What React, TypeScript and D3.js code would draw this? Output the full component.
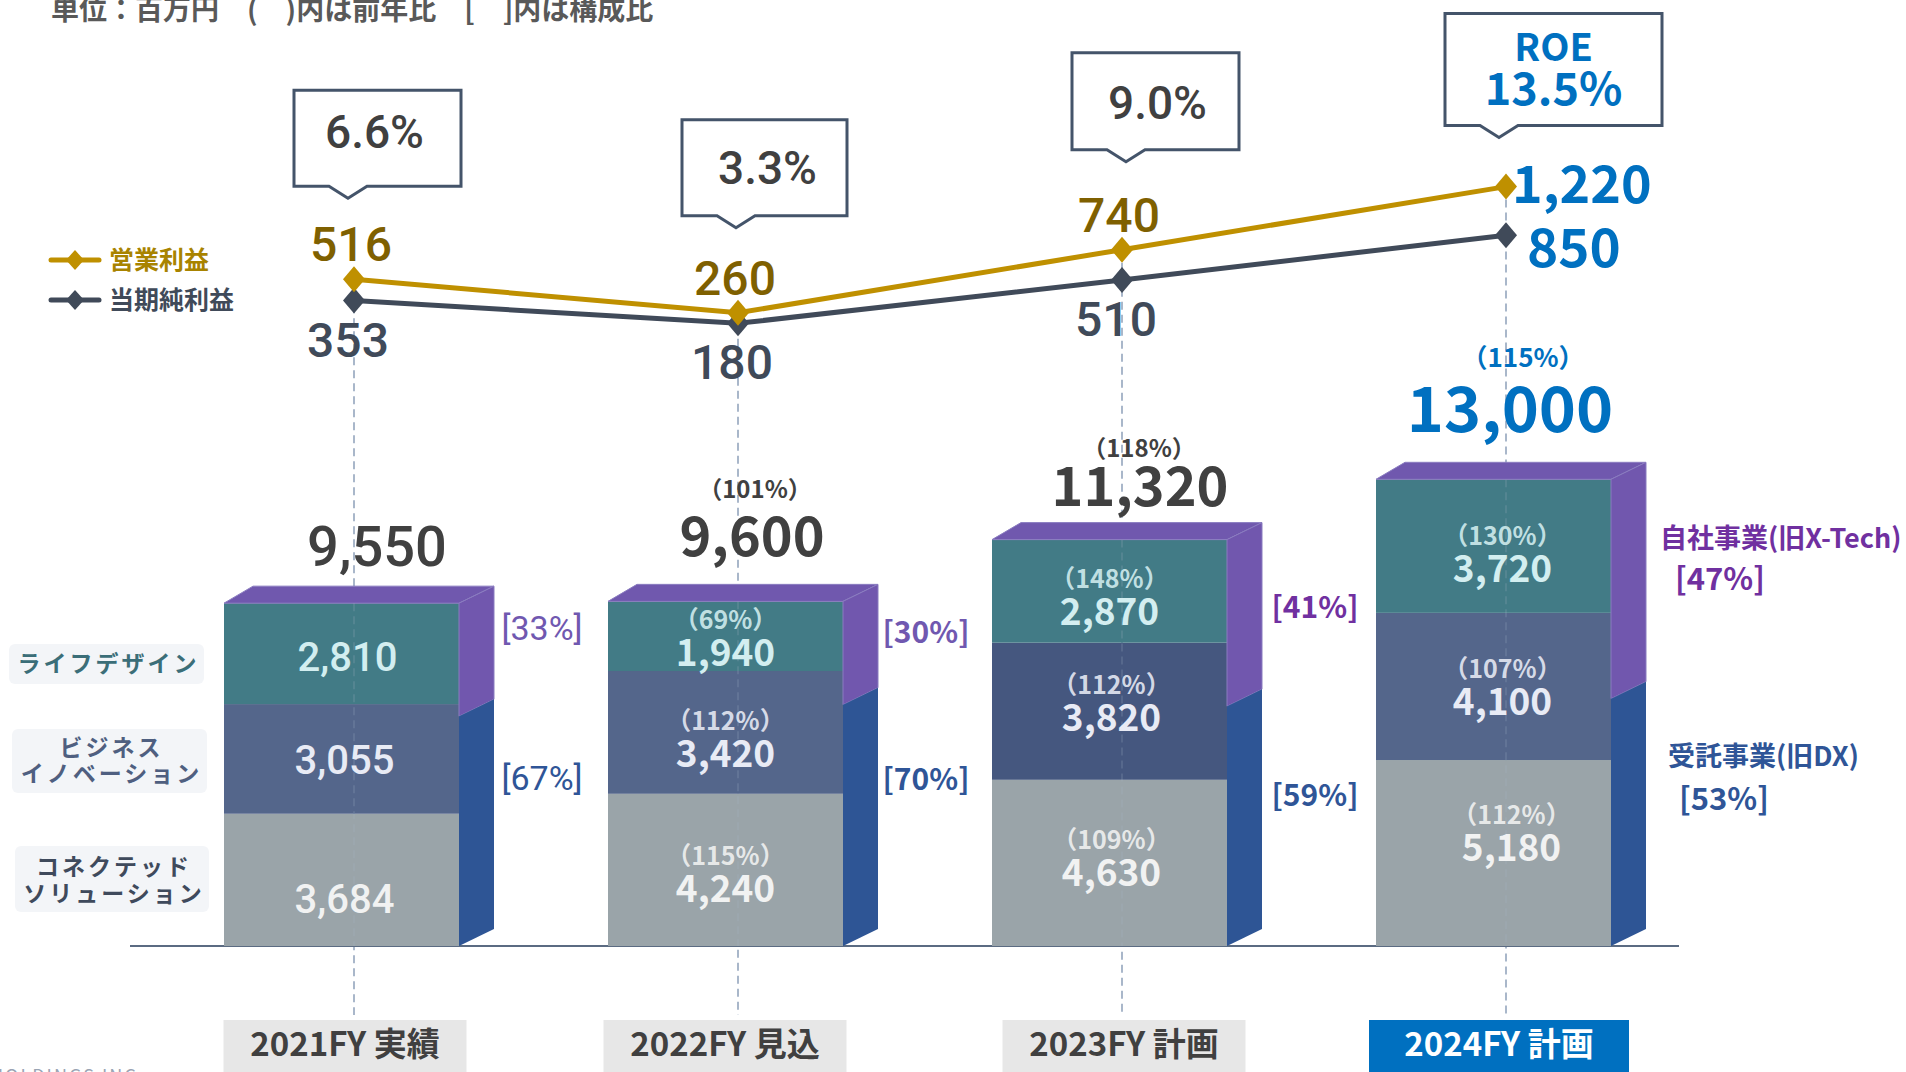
import React from "react";
import * as d3 from "d3";

// ---------- data ----------
const categories = ["2021FY 実績", "2022FY 見込", "2023FY 計画", "2024FY 計画"];
const segmentKeys = ["cs", "bi", "ld"]; // bottom -> top
const segmentNames = ["コネクテッド\nソリューション", "ビジネス\nイノベーション", "ライフデザイン"];
const connectedSolution = [3684, 4240, 4630, 5180];
const businessInnovation = [3055, 3420, 3820, 4100];
const lifeDesign = [2810, 1940, 2870, 3720];
const csYoY = ["", "115%", "109%", "112%"];
const biYoY = ["", "112%", "112%", "107%"];
const ldYoY = ["", "69%", "148%", "130%"];
const totals = [9550, 9600, 11320, 13000];
const totalYoY = ["", "101%", "118%", "115%"];
const ownBizShare = [33, 30, 41, 47];
const contractShare = [67, 70, 59, 53];
const operatingProfit = [516, 260, 740, 1220];
const netIncome = [353, 180, 510, 850];
const ratioLabels = ["6.6%", "3.3%", "9.0%", "13.5%"];
const seriesNames = ["営業利益", "当期純利益"];
const groupNames = ["自社事業(旧X-Tech)", "受託事業(旧DX)"];
const unitNote = "単位：百万円　(　)内は前年比　[　]内は構成比";

// ---------- layout / style ----------
const W = 1906;
const H = 1072;
const FONT = "'Noto Sans CJK JP', 'Noto Sans', sans-serif";
const NUM = "Roboto, 'Noto Sans', sans-serif";
const segColors = ["#9aa4a9", "#54668b", "#427b86"];
const segTextColors = ["#f1f2f2", "#e8ebf5", "#d3eef0"];
const BAR_OFF = -130;
const BAR_W = 235;
const TOP_DX = 29;
const SIDE_DX = 35;
const DEPTH_DY = -17;
const BASE_Y = 946;
const segLabelDy = [
  [33, 15, 17],
  [32, 35, 30],
  [23, 20, 34],
  [8, 29, 36],
];
const segLabelDx = [
  [3, 3, 6],
  [0, 0, 0],
  [2, 2, 0],
  [18, 9, 9],
];
const totalDy = [-37, -45, -34, -47];
const totalDx = [23, 14, 18, 4];
const shareLabelY = [
  [640, 790],
  [643, 790],
  [618, 806],
];
const shareLabelDx = [83, 83, 88];
const calloutLayout = [
  { left: -60, w: 167, h: 96, gap: 93, ty: 58, tx: 0 },
  { left: -56, w: 165, h: 96, gap: 97, ty: 64, tx: 6 },
  { left: -50, w: 167, h: 97, gap: 100, ty: 66, tx: 5 },
  { left: -61, w: 217, h: 112, gap: 61, ty: 0, tx: 0 },
];
const catBoxDx = [-9, -13, 2, -7];
const catBoxW = [243, 243, 243, 260];

export default function App() {
  const x = d3.scalePoint<string>().domain(categories).range([354, 1506]);
  const yBar = d3.scaleLinear().domain([0, 13000]).range([BASE_Y, 479.3]);
  const yLine = d3.scaleLinear().domain([0, 1220]).range([347, 186.6]);

  const rows = categories.map((c, i) => ({
    cat: c,
    cs: connectedSolution[i],
    bi: businessInnovation[i],
    ld: lifeDesign[i],
  }));
  const stacked = d3.stack<any>().keys(segmentKeys)(rows);
  const yoy = [csYoY, biYoY, ldYoY];

  const line = d3
    .line<number>()
    .x((_, i) => x(categories[i])!)
    .y((d) => yLine(d));

  const diamond = "M0,-13L11,0L0,13L-11,0Z";
  const goldLine = "#bf9000";
  const darkLine = "#404a59";

  return (
    <svg
      width={W}
      height={H}
      viewBox={`0 0 ${W} ${H}`}
      style={{ position: "absolute", left: 0, top: 0, display: "block", background: "#fff" }}
    >
      <rect width={W} height={H} fill="#ffffff" />
      {/* unit note */}
      <text x={51} y={20} fontFamily={FONT} fontWeight={700} fontSize={28} fill="#595959">
        {unitNote}
      </text>

      {/* dashed guide lines */}
      {categories.map((c, i) => (
        <line
          key={"dg" + i}
          x1={x(c)!}
          x2={x(c)!}
          y1={yLine(operatingProfit[i])}
          y2={1015}
          stroke="#a9b7ca"
          strokeWidth={2}
          strokeDasharray="8 5"
        />
      ))}

      {/* baseline */}
      <line x1={130} x2={1679} y1={BASE_Y} y2={BASE_Y} stroke="#5b6b82" strokeWidth={2} />

      {/* bars */}
      {categories.map((c, i) => {
        const L = x(c)! + BAR_OFF;
        const R = L + BAR_W;
        const T = yBar(totals[i]);
        const B = yBar(0);
        const split = T + (ownBizShare[i] / 100) * (B - T);
        return (
          <g key={"bar" + i}>
            {stacked.map((s, k) => {
              const d = s[i];
              return (
                <rect
                  key={k}
                  x={L}
                  y={yBar(d[1])}
                  width={BAR_W}
                  height={yBar(d[0]) - yBar(d[1])}
                  fill={i === 2 && k === 1 ? "#45577f" : segColors[k]}
                />
              );
            })}
            <path
              d={`M${L},${T}L${L + TOP_DX},${T + DEPTH_DY}L${R + SIDE_DX},${T + DEPTH_DY}L${R},${T}Z`}
              fill="#7058ae"
              stroke="#8a7cc0"
              strokeWidth={1}
            />
            <path
              d={`M${R},${T}L${R + SIDE_DX},${T + DEPTH_DY}L${R + SIDE_DX},${split + DEPTH_DY}L${R},${split}Z`}
              fill="#7157ae"
              stroke="#8a7cc0"
              strokeWidth={1}
            />
            <path
              d={`M${R},${split}L${R + SIDE_DX},${split + DEPTH_DY}L${R + SIDE_DX},${B + DEPTH_DY}L${R},${B}Z`}
              fill="#2e5595"
            />
          </g>
        );
      })}

      {/* faint guide inside bars */}
      {categories.map((c, i) => (
        <line
          key={"dgi" + i}
          x1={x(c)!}
          x2={x(c)!}
          y1={yBar(totals[i])}
          y2={BASE_Y}
          stroke="#a9b7ca"
          strokeOpacity={0.18}
          strokeWidth={2}
          strokeDasharray="8 5"
        />
      ))}

      {/* segment labels */}
      {categories.map((c, i) => {
        const cx = x(c)! + BAR_OFF + BAR_W / 2;
        return stacked.map((s, k) => {
          const d = s[i];
          const mid = (yBar(d[0]) + yBar(d[1])) / 2;
          const vy = mid + segLabelDy[i][k];
          const tx = cx + segLabelDx[i][k];
          const val = d[1] - d[0];
          const first = i === 0;
          return (
            <g key={"sl" + i + k}>
              {yoy[k][i] && (
                <text
                  x={tx}
                  y={vy - 37}
                  textAnchor="middle"
                  fontFamily={FONT}
                  fontWeight={700}
                  fontSize={25}
                  fill={segTextColors[k]}
                  fillOpacity={0.9}
                >
                  {"（" + yoy[k][i] + "）"}
                </text>
              )}
              <text
                x={tx}
                y={vy}
                textAnchor="middle"
                fontFamily={first ? NUM : FONT}
                fontWeight={first ? 500 : 700}
                fontSize={first ? 40 : 37}
                fill={segTextColors[k]}
              >
                {d3.format(",")(val)}
              </text>
            </g>
          );
        });
      })}

      {/* totals */}
      {categories.map((c, i) => {
        const last = i === categories.length - 1;
        const ty = yBar(totals[i]) + totalDy[i];
        const tx = x(c)! + totalDx[i];
        const col = last ? "#0070c0" : "#404040";
        return (
          <g key={"tot" + i}>
            {totalYoY[i] && (
              <text
                x={x(c)! + 17}
                y={ty - (last ? 65 : i === 1 ? 58 : 49)}
                textAnchor="middle"
                fontFamily={FONT}
                fontWeight={700}
                fontSize={last ? 26 : 24}
                fill={col}
              >
                {"（" + totalYoY[i] + "）"}
              </text>
            )}
            <text
              x={tx}
              y={ty}
              textAnchor="middle"
              fontFamily={i === 0 ? NUM : FONT}
              fontWeight={i === 0 ? 500 : 700}
              fontSize={last ? 63 : i === 0 ? 56 : 54}
              fill={col}
            >
              {d3.format(",")(totals[i])}
            </text>
          </g>
        );
      })}

      {/* share labels bars 1-3 */}
      {categories.slice(0, 3).map((c, i) => {
        const cx = x(c)! + BAR_OFF + BAR_W + shareLabelDx[i];
        const first = i === 0;
        return (
          <g key={"sh" + i}>
            <text
              x={cx}
              y={shareLabelY[i][0]}
              textAnchor="middle"
              fontFamily={first ? NUM : FONT}
              fontWeight={first ? 400 : 700}
              fontSize={first ? 34 : 30}
              fill={i === 2 ? "#7030a0" : "#7058b0"}
            >
              {"[" + ownBizShare[i] + "%]"}
            </text>
            <text
              x={cx}
              y={shareLabelY[i][1]}
              textAnchor="middle"
              fontFamily={first ? NUM : FONT}
              fontWeight={first ? 400 : 700}
              fontSize={first ? 34 : 30}
              fill="#2f5597"
            >
              {"[" + contractShare[i] + "%]"}
            </text>
          </g>
        );
      })}

      {/* group labels on the right of bar 4 */}
      <text x={1660} y={548} fontFamily={FONT} fontWeight={700} fontSize={27} fill="#7030a0">
        {groupNames[0]}
      </text>
      <text x={1720} y={590} textAnchor="middle" fontFamily={FONT} fontWeight={700} fontSize={31} fill="#7030a0">
        {"[" + ownBizShare[3] + "%]"}
      </text>
      <text x={1668} y={766} fontFamily={FONT} fontWeight={700} fontSize={27} fill="#2f5597">
        {groupNames[1]}
      </text>
      <text x={1724} y={810} textAnchor="middle" fontFamily={FONT} fontWeight={700} fontSize={31} fill="#2f5597">
        {"[" + contractShare[3] + "%]"}
      </text>

      {/* left segment name boxes */}
      {[
        { box: [9, 644, 195, 40], base: [672], col: "#3b6e78" },
        { box: [12, 729, 195, 64], base: [756, 782], col: "#4f5f80" },
        { box: [15, 846, 194, 66], base: [875, 902], col: "#3f4a5c" },
      ].map((b, j) => {
        const name = segmentNames[2 - j].split("\n");
        return (
          <g key={"sn" + j}>
            <rect x={b.box[0]} y={b.box[1]} width={b.box[2]} height={b.box[3]} rx={6} fill="#f3f5f8" />
            {name.map((t, k) => (
              <text
                key={k}
                x={b.box[0] + b.box[2] / 2 + 2}
                y={b.base[k]}
                textAnchor="middle"
                fontFamily={FONT}
                fontWeight={700}
                fontSize={23}
                letterSpacing={3}
                fill={b.col}
              >
                {t}
              </text>
            ))}
          </g>
        );
      })}

      {/* lines */}
      <path d={line(netIncome)!} fill="none" stroke={darkLine} strokeWidth={5} />
      <path d={line(operatingProfit)!} fill="none" stroke={goldLine} strokeWidth={5} />
      {netIncome.map((v, i) => (
        <path key={"nm" + i} d={diamond} transform={`translate(${x(categories[i])},${yLine(v)})`} fill={darkLine} />
      ))}
      {operatingProfit.map((v, i) => (
        <path key={"om" + i} d={diamond} transform={`translate(${x(categories[i])},${yLine(v)})`} fill={goldLine} />
      ))}

      {/* line labels */}
      {operatingProfit.map((v, i) => {
        const last = i === operatingProfit.length - 1;
        const cx = x(categories[i])!;
        const cy = yLine(v);
        return last ? (
          <text key={"ol" + i} x={cx + 6} y={cy + 16} fontFamily={FONT} fontWeight={700} fontSize={52} fill="#0070c0">
            {d3.format(",")(v)}
          </text>
        ) : (
          <text
            key={"ol" + i}
            x={cx - 3}
            y={cy - 18}
            textAnchor="middle"
            fontFamily={NUM}
            fontWeight={500}
            fontSize={48}
            fill="#7f6000"
          >
            {d3.format(",")(v)}
          </text>
        );
      })}
      {netIncome.map((v, i) => {
        const last = i === netIncome.length - 1;
        const cx = x(categories[i])!;
        const cy = yLine(v);
        return last ? (
          <text key={"nl" + i} x={cx + 21} y={cy + 32} fontFamily={FONT} fontWeight={700} fontSize={53} fill="#0070c0">
            {d3.format(",")(v)}
          </text>
        ) : (
          <text
            key={"nl" + i}
            x={cx - 6}
            y={cy + 56}
            textAnchor="middle"
            fontFamily={NUM}
            fontWeight={500}
            fontSize={48}
            fill="#404a59"
          >
            {d3.format(",")(v)}
          </text>
        );
      })}

      {/* callouts */}
      {ratioLabels.map((r, i) => {
        const lay = calloutLayout[i];
        const cx = x(categories[i])!;
        const bottom = yLine(operatingProfit[i]) - lay.gap;
        const top = bottom - lay.h;
        const left = cx + lay.left;
        const right = left + lay.w;
        const tip = left + 54;
        const last = i === ratioLabels.length - 1;
        const p = `M${left},${top}H${right}V${bottom}H${tip + 19}L${tip},${bottom + 12}L${tip - 19},${bottom}H${left}Z`;
        return (
          <g key={"co" + i}>
            <path d={p} fill="#fff" stroke="#44546a" strokeWidth={3} />
            {last ? (
              <>
                <text x={(left + right) / 2} y={top + 47} textAnchor="middle" fontFamily={FONT} fontWeight={700} fontSize={38} fill="#0070c0">
                  ROE
                </text>
                <text x={(left + right) / 2} y={top + 91} textAnchor="middle" fontFamily={FONT} fontWeight={700} fontSize={45} fill="#0070c0">
                  {r}
                </text>
              </>
            ) : (
              <text
                x={(left + right) / 2 - 3 + lay.tx}
                y={top + lay.ty}
                textAnchor="middle"
                fontFamily={NUM}
                fontWeight={500}
                fontSize={46}
                fill="#404040"
              >
                {r}
              </text>
            )}
          </g>
        );
      })}

      {/* legend */}
      {seriesNames.map((n, j) => {
        const ly = 260 + j * 40;
        const col = j === 0 ? goldLine : darkLine;
        return (
          <g key={"lg" + j}>
            <line x1={51} x2={99} y1={ly} y2={ly} stroke={col} strokeWidth={5} strokeLinecap="round" />
            <path d="M0,-10L9,0L0,10L-9,0Z" transform={`translate(75,${ly})`} fill={col} />
            <text x={109} y={ly + 9} fontFamily={FONT} fontWeight={700} fontSize={25} fill={j === 0 ? "#a88300" : "#404a59"}>
              {n}
            </text>
          </g>
        );
      })}

      {/* category label boxes */}
      {categories.map((c, i) => {
        const last = i === categories.length - 1;
        const cx = x(c)! + catBoxDx[i];
        return (
          <g key={"cat" + i}>
            <rect x={cx - catBoxW[i] / 2} y={1020} width={catBoxW[i]} height={70} fill={last ? "#0070c0" : "#e7e7e7"} />
            <text x={cx} y={1056} textAnchor="middle" fontFamily={FONT} fontWeight={700} fontSize={33} fill={last ? "#ffffff" : "#404040"}>
              {c}
            </text>
          </g>
        );
      })}

      {/* footer */}
      <text x={-10} y={1083} fontFamily={FONT} fontSize={18} letterSpacing={2} fill="#9aa4b4">
        HOLDINGS INC.
      </text>
    </svg>
  );
}
